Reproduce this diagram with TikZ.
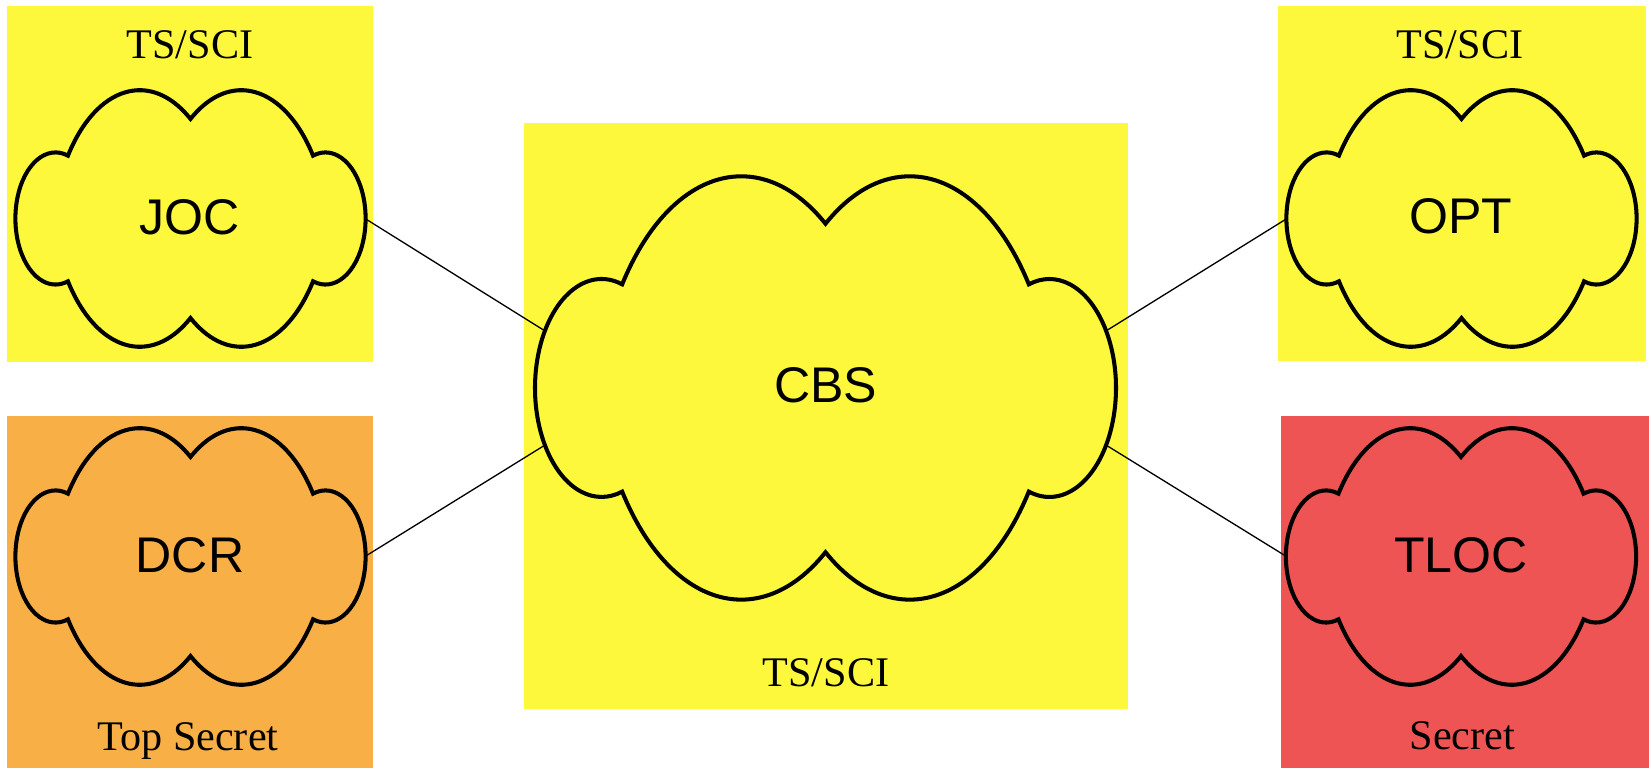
\documentclass[tikz,border=0pt]{standalone}
\usepackage{fontspec}
\setmainfont{Liberation Serif}
\setsansfont{Liberation Sans}

\definecolor{tsyellow}{RGB}{253,248,60}
\definecolor{toporange}{RGB}{248,176,70}
\definecolor{secretred}{RGB}{238,84,84}

% six-lobed cloud in unit coordinates, scaled to size by the caller
\tikzset{
  pics/netcloud/.style={code={
    \draw[cloudline] (0,0.775)
      arc[start angle=55,end angle=144,x radius=0.508,y radius=1.236]
      arc[start angle=72,end angle=288,x radius=0.23,y radius=0.514]
      arc[start angle=216,end angle=305,x radius=0.508,y radius=1.236]
      arc[start angle=235,end angle=324,x radius=0.508,y radius=1.236]
      arc[start angle=-108,end angle=108,x radius=0.23,y radius=0.514]
      arc[start angle=36,end angle=125,x radius=0.508,y radius=1.236]
      -- cycle;
    \coordinate (-e) at (1,0);
    \coordinate (-w) at (-1,0);
    \coordinate (-nw) at (-0.97,0.27);
    \coordinate (-ne) at (0.97,0.27);
    \coordinate (-sw) at (-0.97,-0.27);
    \coordinate (-se) at (0.97,-0.27);
  }}
}

\begin{document}
\begin{tikzpicture}[
  cloudline/.style={line width=2.3pt},
  link/.style={line width=0.75pt},
  smallnet/.style={xscale=3.49,yscale=2.57},
  bignet/.style={xscale=5.79,yscale=4.24},
  netname/.style={font=\sffamily\fontsize{28.5}{32}\selectfont},
  level/.style={anchor=base,font=\fontsize{24}{28}\selectfont}
]
\useasboundingbox (0,0) rectangle (32.98,-15.38);

% classification zones
\fill[tsyellow] (0.14,-0.12) rectangle (7.46,-7.24);
\fill[toporange] (0.14,-8.32) rectangle (7.46,-15.36);
\fill[tsyellow] (10.48,-2.46) rectangle (22.56,-14.18);
\fill[tsyellow] (25.56,-0.12) rectangle (32.92,-7.22);
\fill[secretred] (25.62,-8.32) rectangle (32.98,-15.36);

\node[level] (jocLevel) at (3.8,-1.17) {TS/SCI};
\node[level] (optLevel) at (29.2,-1.17) {TS/SCI};
\node[level] (cbsLevel) at (16.52,-13.72) {TS/SCI};
\node[level] (dcrLevel) at (3.76,-15.0) {Top Secret};
\node[level] (tlocLevel) at (29.25,-14.98) {Secret};

% networks
\pic[smallnet] (jocnet) at (3.81,-4.37) {netcloud};
\pic[smallnet] (dcrnet) at (3.81,-11.13) {netcloud};
\pic[smallnet] (optnet) at (29.23,-4.37) {netcloud};
\pic[smallnet] (tlocnet) at (29.22,-11.13) {netcloud};
\pic[bignet] (cbsnet) at (16.51,-7.76) {netcloud};

\node[netname] (joc) at (3.8,-4.34) {JOC};
\node[netname] (dcr) at (3.8,-11.1) {DCR};
\node[netname] (opt) at (29.22,-4.32) {OPT};
\node[netname] (tloc) at (29.22,-11.1) {TLOC};
\node[netname] (cbs) at (16.51,-7.7) {CBS};

\draw[link] (jocnet-e) -- (cbsnet-nw);
\draw[link] (dcrnet-e) -- (cbsnet-sw);
\draw[link] (optnet-w) -- (cbsnet-ne);
\draw[link] (tlocnet-w) -- (cbsnet-se);
\end{tikzpicture}
\end{document}
